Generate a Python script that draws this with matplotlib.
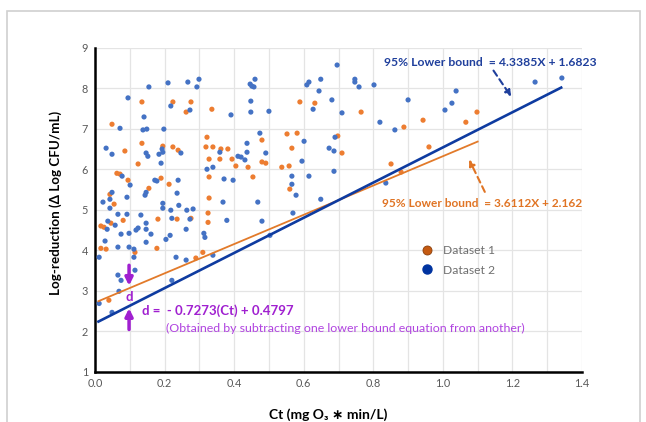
import matplotlib
matplotlib.use("Agg")
import matplotlib.pyplot as plt
import matplotlib.patches as patches
from matplotlib.lines import Line2D
import numpy as np

plt.rcParams['font.family'] = ['Lato', 'DejaVu Sans']

# Dataset 1 (orange)
ds1_ct = [0.049, 0.086, 0.063, 0.072, 0.095, 0.043, 0.055, 0.081, 0.135, 0.135,
          0.124, 0.155, 0.190, 0.195, 0.213, 0.224, 0.224, 0.262, 0.276, 0.239,
          0.181, 0.236, 0.276, 0.322, 0.319, 0.328, 0.328, 0.328, 0.325, 0.336,
          0.339, 0.362, 0.382, 0.359, 0.394, 0.405, 0.440, 0.454, 0.480, 0.480,
          0.491, 0.537, 0.552, 0.558, 0.566, 0.581, 0.560, 0.589, 0.632, 0.017,
          0.026, 0.017, 0.032, 0.046, 0.040, 0.115, 0.178, 0.290, 0.310, 0.325,
          0.765, 0.698, 0.710, 0.888, 0.943, 0.960, 0.851, 0.880, 1.066, 1.098]
ds1_logred = [7.11, 6.45, 5.90, 5.88, 5.73, 5.38, 5.14, 4.74, 7.66, 6.64,
              6.13, 5.53, 5.78, 6.57, 5.63, 7.66, 6.55, 7.41, 7.66, 6.47,
              4.77, 4.77, 4.79, 6.79, 6.55, 6.25, 5.81, 5.29, 4.92, 7.48,
              6.55, 6.50, 6.50, 6.25, 6.25, 6.08, 6.05, 5.81, 6.72, 6.18,
              6.15, 6.05, 6.87, 6.08, 6.52, 6.89, 5.51, 7.66, 7.63, 4.60,
              4.57, 4.05, 4.03, 4.67, 2.77, 3.95, 4.05, 3.81, 3.95, 4.69,
              7.41, 6.82, 6.40, 7.04, 7.21, 6.55, 6.13, 5.93, 7.16, 7.41]

# Dataset 2 (blue)
ds2_ct = [0.023, 0.032, 0.049, 0.072, 0.095, 0.155, 0.141, 0.138, 0.149, 0.147,
          0.152, 0.198, 0.190, 0.193, 0.195, 0.184, 0.210, 0.218, 0.267, 0.273,
          0.299, 0.293, 0.247, 0.172, 0.178, 0.239, 0.236, 0.241, 0.195, 0.195,
          0.218, 0.264, 0.282, 0.144, 0.147, 0.101, 0.092, 0.078, 0.049, 0.043,
          0.043, 0.066, 0.092, 0.132, 0.322, 0.339, 0.359, 0.368, 0.371, 0.391,
          0.397, 0.411, 0.420, 0.431, 0.437, 0.437, 0.446, 0.451, 0.457, 0.460,
          0.448, 0.448, 0.500, 0.474, 0.491, 0.468, 0.578, 0.566, 0.566, 0.569,
          0.601, 0.595, 0.615, 0.609, 0.615, 0.649, 0.644, 0.627, 0.649, 0.673,
          0.012, 0.012, 0.049, 0.066, 0.075, 0.069, 0.098, 0.112, 0.112, 0.115,
          0.118, 0.124, 0.075, 0.066, 0.098, 0.058, 0.037, 0.035, 0.029, 0.147,
          0.147, 0.147, 0.161, 0.204, 0.216, 0.221, 0.233, 0.221, 0.262, 0.262,
          0.273, 0.313, 0.316, 0.339, 0.379, 0.480, 0.503, 0.696, 0.681, 0.710,
          0.747, 0.747, 0.759, 0.802, 0.819, 0.862, 0.900, 1.006, 1.026, 1.038,
          0.690, 0.687, 0.687, 0.836, 1.265, 1.342]
ds2_logred = [5.19, 6.52, 6.37, 7.01, 7.76, 8.03, 7.29, 6.97, 6.99, 6.40,
              6.32, 6.99, 6.15, 6.50, 6.42, 6.37, 8.13, 7.56, 8.15, 7.46,
              8.22, 8.03, 6.40, 5.73, 5.71, 5.73, 5.41, 5.11, 5.16, 5.04,
              4.99, 4.99, 5.02, 5.36, 5.43, 5.61, 5.31, 5.83, 5.43, 5.26,
              5.04, 4.89, 4.89, 4.87, 6.00, 6.05, 6.42, 5.19, 5.76, 7.34,
              5.73, 6.32, 6.30, 6.23, 6.64, 6.42, 8.10, 8.05, 8.03, 8.22,
              7.68, 7.41, 7.43, 6.89, 6.40, 5.19, 5.36, 5.63, 5.83, 4.92,
              6.69, 6.20, 5.83, 8.08, 8.15, 8.22, 7.93, 7.48, 5.26, 6.52,
              3.83, 2.69, 2.47, 3.39, 3.26, 2.99, 4.08, 3.83, 4.03, 3.51,
              4.50, 4.55, 4.40, 4.08, 4.42, 4.62, 4.72, 4.52, 4.23, 4.20,
              4.52, 4.67, 4.40, 4.27, 4.37, 4.79, 3.83, 3.26, 3.76, 4.52,
              4.77, 4.42, 4.32, 3.88, 4.74, 4.72, 4.37, 8.57, 7.71, 7.39,
              8.22, 8.15, 8.03, 8.08, 7.16, 6.97, 7.71, 7.46, 7.63, 7.93,
              6.79, 6.45, 5.95, 5.66, 8.15, 8.25]

# lower bound lines as drawn (slope, intercept, x range)
blue_slope, blue_icpt, blue_xr = 4.3385, 2.20, (0.01, 1.34)
orange_slope, orange_icpt, orange_xr = 3.6112, 2.71, (0.01, 1.10)

x_ticks = [0.0, 0.2, 0.4, 0.6, 0.8, 1.0, 1.2, 1.4]
y_ticks = [1, 2, 3, 4, 5, 6, 7, 8, 9]

BLUE_PT = '#4472C4'
ORANGE_PT = '#ED7D31'
BLUE_LN = '#0E3BA0'
ORANGE_LN = '#E27A2A'
BLUE_TXT = '#1F3F9C'
ORANGE_TXT = '#E07424'
PURPLE = '#A020D0'
PURPLE_LIGHT = '#B043E0'

fig = plt.figure(figsize=(6.46, 4.22), dpi=100)
ax = fig.add_axes([0.147, 0.1185, 0.754, 0.7687])

# outer frame
fig.patches.append(patches.Rectangle((0.0108, -0.02), 0.98, 0.994, transform=fig.transFigure,
                                     fill=False, edgecolor='#D0D0D0', lw=1.2, clip_on=False))

ax.scatter(ds1_ct, ds1_logred, s=14, color=ORANGE_PT, edgecolors='none', zorder=3)
ax.scatter(ds2_ct, ds2_logred, s=14, color=BLUE_PT, edgecolors='none', zorder=3)

bx = np.array(blue_xr)
ox = np.array(orange_xr)
ax.plot(ox, orange_slope * ox + orange_icpt, color=ORANGE_LN, lw=1.3, zorder=4)
ax.plot(bx, blue_slope * bx + blue_icpt, color=BLUE_LN, lw=1.9, zorder=4)

ax.set_xlim(0, 1.4)
ax.set_ylim(1, 9)
ax.set_xticks(x_ticks)
ax.set_xticklabels(['%.1f' % v for v in x_ticks])
ax.set_yticks(y_ticks)
ax.set_xticks(np.arange(0.1, 1.4, 0.2), minor=True)
ax.grid(True, which='both', color='#E4E4E4', lw=0.9, zorder=0)
ax.set_axisbelow(True)
ax.tick_params(axis='both', which='both', length=0, labelsize=7.8, labelcolor='#595959')
ax.tick_params(axis='y', pad=5)
ax.tick_params(axis='x', pad=4)
for s in ['top', 'right']:
    ax.spines[s].set_visible(False)
for s in ['left', 'bottom']:
    ax.spines[s].set_linewidth(1.8)
    ax.spines[s].set_color('black')

ax.set_ylabel('Log-reduction (\u0394 Log CFU/mL)', fontsize=9.6, fontweight='bold')
ax.yaxis.set_label_coords(-0.068, 0.52)
ax.set_xlabel('Ct (mg O\u2083 \u2217 min/L)', fontsize=10, fontweight='bold')
ax.xaxis.set_label_coords(0.478, -0.111)

# equations
ax.text(0.830, 8.64, '95% Lower bound  = 4.3385X + 1.6823', color=BLUE_TXT, fontsize=8.7,
        fontweight='bold', va='center', ha='left', zorder=5, clip_on=False)
ax.annotate('', xy=(1.201, 7.73), xytext=(1.141, 8.49),
            arrowprops=dict(arrowstyle='-|>', color=BLUE_TXT, lw=1.5, linestyle=(0, (3, 2)),
                            mutation_scale=9), zorder=5)
ax.text(0.825, 5.16, '95% Lower bound  = 3.6112X + 2.162', color=ORANGE_TXT, fontsize=8.6,
        fontweight='bold', va='center', ha='left', zorder=5, clip_on=False)
ax.annotate('', xy=(1.072, 6.30), xytext=(1.124, 5.38),
            arrowprops=dict(arrowstyle='-|>', color=ORANGE_TXT, lw=1.5, linestyle=(0, (3, 2)),
                            mutation_scale=9), zorder=5)

# d annotation
ax.annotate('', xy=(0.098, 3.06), xytext=(0.098, 3.70),
            arrowprops=dict(arrowstyle='-|>', color=PURPLE, lw=2.5, mutation_scale=11), zorder=5)
ax.annotate('', xy=(0.098, 2.64), xytext=(0.098, 1.98),
            arrowprops=dict(arrowstyle='-|>', color=PURPLE, lw=2.5, mutation_scale=11), zorder=5)
ax.text(0.098, 2.84, 'd', color=PURPLE, fontsize=9.5, fontweight='bold',
        ha='center', va='center', zorder=5)
ax.text(0.135, 2.52, 'd =  - 0.7273(Ct) + 0.4797', color=PURPLE, fontsize=9.5,
        fontweight='bold', ha='left', va='center', zorder=5)
ax.text(0.204, 2.07, '(Obtained by subtracting one lower bound equation from another)',
        color=PURPLE_LIGHT, fontsize=8.9, ha='left', va='center', zorder=5)

handles = [Line2D([], [], marker='o', ls='none', markersize=6.5, markerfacecolor='#C55A11',
                  markeredgecolor='#8A3E0A', markeredgewidth=0.6),
           Line2D([], [], marker='o', ls='none', markersize=6.5, markerfacecolor='#0033A0',
                  markeredgecolor='#0033A0')]
ax.legend(handles, ['Dataset 1', 'Dataset 2'], loc='center left', bbox_to_anchor=(0.655, 0.344),
          frameon=False, fontsize=8.7, labelcolor='#707070', handlelength=1.2,
          handletextpad=0.7, labelspacing=0.7, borderpad=0)

fig.savefig('out.png', dpi=100)
